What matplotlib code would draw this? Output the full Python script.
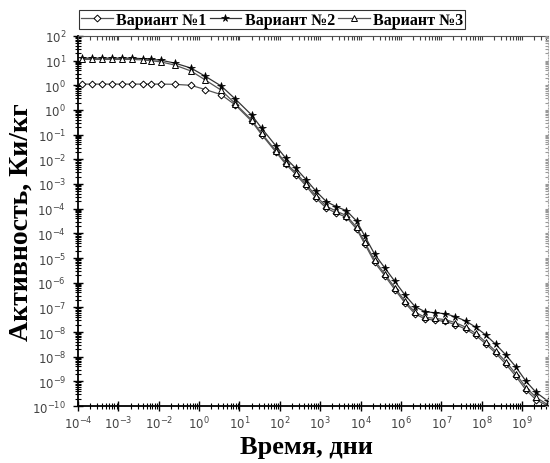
#!/usr/bin/env python3
import numpy as np
import matplotlib
matplotlib.use('Agg')
import matplotlib.pyplot as plt
from matplotlib.ticker import FixedLocator, LogLocator, NullFormatter

# Time axis positions (log10 of days) shared by all three variants
time_log = [-3.9, -3.65, -3.4, -3.15, -2.9, -2.65, -2.4, -2.2, -1.95, -1.6,
            -1.2, -0.85, -0.45, -0.1, 0.3, 0.55, 0.9, 1.15, 1.4, 1.65,
            1.9, 2.15, 2.4, 2.65, 2.9, 3.1, 3.35, 3.6, 3.85, 4.1,
            4.35, 4.6, 4.85, 5.1, 5.35, 5.6, 5.85, 6.1, 6.35, 6.6,
            6.85, 7.1, 7.35, 7.64]

# Activity, log10 of Ci/kg
variant1_log = [0.05, 0.05, 0.05, 0.05, 0.05, 0.05, 0.05, 0.05, 0.05, 0.04,
                0.0, -0.17, -0.38, -0.8, -1.45, -2.0, -2.7, -3.2, -3.62, -4.08,
                -4.58, -4.98, -5.18, -5.35, -5.82, -6.42, -7.18, -7.72, -8.28, -8.82,
                -9.27, -9.47, -9.52, -9.57, -9.7, -9.88, -10.13, -10.48, -10.86, -11.3,
                -11.8, -12.35, -12.75, -13.0]
variant2_log = [1.1, 1.1, 1.1, 1.1, 1.1, 1.1, 1.08, 1.05, 1.02, 0.9,
                0.7, 0.37, -0.03, -0.56, -1.2, -1.74, -2.45, -2.96, -3.37, -3.82,
                -4.3, -4.71, -4.92, -5.08, -5.5, -6.1, -6.85, -7.4, -7.95, -8.5,
                -8.97, -9.18, -9.22, -9.26, -9.38, -9.55, -9.8, -10.12, -10.5, -10.93,
                -11.42, -12.0, -12.45, -12.8]
variant3_log = [1.05, 1.05, 1.05, 1.05, 1.05, 1.05, 1.03, 1.0, 0.95, 0.82,
                0.58, 0.22, -0.2, -0.75, -1.4, -1.95, -2.65, -3.15, -3.55, -4.0,
                -4.5, -4.9, -5.1, -5.28, -5.75, -6.35, -7.1, -7.65, -8.2, -8.75,
                -9.2, -9.4, -9.45, -9.5, -9.62, -9.8, -10.05, -10.4, -10.78, -11.2,
                -11.7, -12.25, -12.65, -12.95]

series_names = ['Вариант №1', 'Вариант №2', 'Вариант №3']

# Tick labels as printed on the axes
x_tick_labels = ['-4', '-3', '-2', '0', '1', '2', '3', '4', '6', '7', '8', '9']
y_tick_labels = ['2', '1', '0', '0', '-1', '-2', '-3', '-4', '-4', '-5', '-6',
                 '-7', '-8', '-8', '-9', '-10']

serif = 'Liberation Serif'
sans = 'Liberation Sans'

fig = plt.figure(figsize=(5.5, 4.64), dpi=100)
ax = fig.add_axes([0.1418, 0.1228, 0.8546, 0.7975])

x = 10.0 ** np.array(time_log)
styles = [
    dict(marker='D', ms=3.5, mfc='white', mec='black', mew=0.7, color='#555555'),
    dict(marker='*', ms=5.5, mfc='black', mec='black', mew=0.5, color='#333333'),
    dict(marker='^', ms=4.5, mfc='white', mec='black', mew=0.7, color='#555555'),
]
handles = []
for vals, name, st in zip([variant1_log, variant2_log, variant3_log], series_names, styles):
    h, = ax.plot(x, 10.0 ** np.array(vals), lw=0.9, label=name, **st)
    handles.append(h)

xlim = (1e-4, 10 ** 7.644)
ylim = (1e-13, 1e2)
ax.set_xscale('log')
ax.set_yscale('log')
ax.set_xlim(*xlim)
ax.set_ylim(*ylim)

x_major = [10.0 ** k for k in range(-4, 8)]
y_major = [10.0 ** k for k in range(2, -14, -1)]
ax.xaxis.set_major_locator(FixedLocator(x_major))
ax.yaxis.set_major_locator(FixedLocator(y_major))
ax.set_xticklabels([r'$10^{%s}$' % s for s in x_tick_labels])
ax.set_yticklabels([r'$10^{%s}$' % s for s in y_tick_labels])
ax.xaxis.set_minor_locator(LogLocator(base=10, subs=np.arange(2, 10), numticks=200))
ax.yaxis.set_minor_locator(LogLocator(base=10, subs=np.arange(2, 10), numticks=200))
ax.xaxis.set_minor_formatter(NullFormatter())
ax.yaxis.set_minor_formatter(NullFormatter())

for lab in ax.get_xticklabels() + ax.get_yticklabels():
    lab.set_fontfamily(sans)
    lab.set_fontsize(8.5)
    lab.set_color('#444444')

ax.tick_params(which='major', direction='inout', length=7, width=1.0, color='black',
               top=False, right=False, pad=5)
ax.tick_params(axis='x', which='major', pad=3)
ax.tick_params(which='minor', direction='inout', length=4, width=0.8, color='black',
               top=False, right=False)

ax.spines['left'].set_linewidth(1.3)
ax.spines['bottom'].set_linewidth(1.3)
ax.spines['top'].set_color('#555555')
ax.spines['top'].set_linewidth(0.8)
ax.spines['right'].set_color('#aaaaaa')
ax.spines['right'].set_linestyle(':')
ax.spines['right'].set_linewidth(0.8)

# small inward ticks along the top and right edges
top = ax.twiny()
top.set_xscale('log')
top.set_xlim(*xlim)
top.xaxis.set_major_locator(FixedLocator(x_major))
top.xaxis.set_minor_locator(LogLocator(base=10, subs=np.arange(2, 10), numticks=200))
top.tick_params(which='both', direction='in', length=3, width=0.8, color='#444444',
                labeltop=False, labelbottom=False, top=True, bottom=False)
top.xaxis.set_minor_formatter(NullFormatter())
right = ax.twinx()
right.set_yscale('log')
right.set_ylim(*ylim)
right.yaxis.set_major_locator(FixedLocator(y_major))
right.yaxis.set_minor_locator(LogLocator(base=10, subs=np.arange(2, 10), numticks=200))
right.tick_params(which='both', direction='in', length=2.5, width=0.8, color='#999999',
                  labelright=False, labelleft=False, right=True, left=False)
right.yaxis.set_minor_formatter(NullFormatter())
for tw in (top, right):
    for sp in tw.spines.values():
        sp.set_visible(False)

ax.set_xlabel('Время, дни', fontfamily=serif, fontweight='bold', fontsize=19)
ax.xaxis.set_label_coords(0.485, -0.077)
ax.set_ylabel('Активность, Ки/кг', fontfamily=serif, fontweight='bold', fontsize=20)
ax.yaxis.set_label_coords(-0.094, 0.5)

leg = fig.legend(handles=handles, loc='lower left', bbox_to_anchor=(0.144, 0.935),
                 ncol=3, frameon=True, fancybox=False, borderpad=0.1,
                 handlelength=2.0, handletextpad=0.2, columnspacing=0.2,
                 borderaxespad=0,
                 prop={'family': serif, 'weight': 'bold', 'size': 11.5})
leg.get_frame().set_edgecolor('black')
leg.get_frame().set_linewidth(0.8)

fig.savefig('out.png', dpi=100)
